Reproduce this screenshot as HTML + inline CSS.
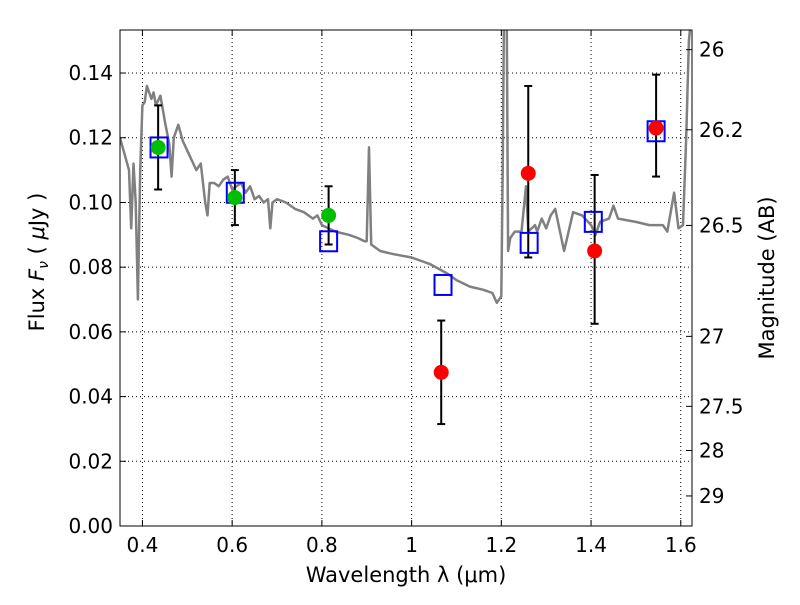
<!DOCTYPE html>
<html><head><meta charset="utf-8"><style>
body{margin:0;background:#fff;}
svg text{font-family:"DejaVu Sans","Liberation Sans",sans-serif;fill:#000;}
</style></head><body>
<svg id="chart" width="800" height="600" xmlns="http://www.w3.org/2000/svg">
<defs><clipPath id="pc"><rect x="120" y="30" width="572" height="496"/></clipPath></defs>
<g id="grid"></g>
<g id="spec" clip-path="url(#pc)"></g>
<g id="marks"></g>
<g id="axes"></g>
</svg>
<script>
const xTicks=[0.4,0.6,0.8,1.0,1.2,1.4,1.6];
const xTickLabels=["0.4","0.6","0.8","1","1.2","1.4","1.6"];
const yTicks=[0,0.02,0.04,0.06,0.08,0.10,0.12,0.14];
const yTickLabels=["0.00","0.02","0.04","0.06","0.08","0.10","0.12","0.14"];
const magTicks=[26,26.2,26.5,27,27.5,28,29];
const magTickLabels=["26","26.2","26.5","27","27.5","28","29"];
const specWave=[0.35,0.36,0.37,0.375,0.38,0.385,0.39,0.395,0.40,0.405,0.41,0.42,0.425,0.43,0.44,0.45,0.46,0.465,0.47,0.48,0.49,0.50,0.51,0.52,0.53,0.54,0.545,0.55,0.56,0.57,0.58,0.59,0.60,0.61,0.62,0.63,0.64,0.65,0.66,0.67,0.68,0.685,0.69,0.70,0.72,0.74,0.76,0.78,0.79,0.80,0.83,0.86,0.88,0.895,0.90,0.905,0.91,0.93,0.96,1.0,1.04,1.08,1.10,1.13,1.16,1.18,1.19,1.20,1.203,1.206,1.212,1.215,1.22,1.23,1.245,1.255,1.26,1.275,1.28,1.29,1.30,1.31,1.32,1.34,1.36,1.38,1.40,1.41,1.42,1.44,1.45,1.46,1.50,1.53,1.56,1.57,1.585,1.595,1.605,1.612,1.618,1.625];
const specFlux=[0.120,0.115,0.110,0.092,0.112,0.100,0.070,0.110,0.130,0.131,0.136,0.132,0.134,0.130,0.133,0.125,0.118,0.108,0.120,0.124,0.119,0.116,0.113,0.110,0.112,0.100,0.096,0.106,0.106,0.105,0.107,0.108,0.104,0.105,0.106,0.103,0.105,0.101,0.102,0.100,0.101,0.092,0.100,0.101,0.100,0.098,0.097,0.095,0.096,0.093,0.091,0.090,0.089,0.088,0.088,0.117,0.087,0.085,0.084,0.083,0.081,0.078,0.076,0.074,0.073,0.072,0.069,0.071,0.110,0.160,0.160,0.085,0.089,0.091,0.091,0.105,0.091,0.093,0.091,0.095,0.092,0.096,0.098,0.085,0.097,0.096,0.093,0.090,0.094,0.095,0.099,0.095,0.094,0.093,0.093,0.091,0.103,0.092,0.093,0.120,0.150,0.160];
const greenWave=[0.435,0.606,0.815];
const greenFlux=[0.117,0.1015,0.096];
const greenHi=[0.130,0.110,0.105];
const greenLo=[0.104,0.093,0.087];
const redWave=[1.066,1.26,1.408,1.545];
const redFlux=[0.0475,0.109,0.085,0.123];
const redHi=[0.0635,0.136,0.1085,0.1395];
const redLo=[0.0315,0.083,0.0625,0.108];
const modelWave=[0.437,0.607,0.815,1.07,1.262,1.405,1.545];
const modelFlux=[0.117,0.103,0.088,0.0745,0.0875,0.094,0.122];

const L=120,R=692,T=30,B=526;
const X=w=>L+(w-0.35)/(1.625-0.35)*(R-L);
const Y=f=>B-f/0.1533*(B-T);
const NS="http://www.w3.org/2000/svg";
function mk(p,tag,at,txt){const e=document.createElementNS(NS,tag);for(const k in at)e.setAttribute(k,at[k]);if(txt!=null)e.textContent=txt;p.appendChild(e);return e;}
const grid=document.getElementById('grid'),axes=document.getElementById('axes'),spec=document.getElementById('spec'),marks=document.getElementById('marks');

xTicks.forEach((t,i)=>{const x=X(t);
 const g=mk(grid,'line',{x1:x,x2:x,y1:T,y2:B,stroke:'#000','stroke-width':1,'stroke-dasharray':'1,3'});
 
 mk(axes,'line',{x1:x,x2:x,y1:B,y2:B-6,stroke:'#000'});mk(axes,'line',{x1:x,x2:x,y1:T,y2:T+6,stroke:'#000'});
 const tl=mk(axes,'text',{x:x,y:B+26,'font-size':20,'text-anchor':'middle'},xTickLabels[i]);
 });
yTicks.forEach((t,i)=>{const y=Y(t);
 const g=mk(grid,'line',{x1:L,x2:R,y1:y,y2:y,stroke:'#000','stroke-width':1,'stroke-dasharray':'1,3'});
 
 mk(axes,'line',{x1:L,x2:L+6,y1:y,y2:y,stroke:'#000'});
 const tl=mk(axes,'text',{x:L-7,y:y+7,'font-size':20,'text-anchor':'end'},yTickLabels[i]);
 });
magTicks.forEach((m,i)=>{const y=Y(Math.pow(10,(23.92-m)/2.5));
 mk(axes,'line',{x1:R-6,x2:R,y1:y,y2:y,stroke:'#000'});
 const tl=mk(axes,'text',{x:R+7,y:y+7,'font-size':20},magTickLabels[i]);
 });

let d='';specWave.forEach((w,i)=>{d+=(i?'L':'M')+X(w).toFixed(1)+','+Y(specFlux[i]).toFixed(1);});
const sp=mk(spec,'path',{d:d,fill:'none',stroke:'#808080','stroke-width':2.5,'stroke-linejoin':'round'});


function err(w,hi,lo){const x=X(w);const g=mk(marks,'g',{stroke:'#000','stroke-width':2});
 
 mk(g,'line',{x1:x,x2:x,y1:Y(hi),y2:Y(lo)});mk(g,'line',{x1:x-4,x2:x+4,y1:Y(hi),y2:Y(hi)});mk(g,'line',{x1:x-4,x2:x+4,y1:Y(lo),y2:Y(lo)});}
greenWave.forEach((w,i)=>err(w,greenHi[i],greenLo[i]));
redWave.forEach((w,i)=>err(w,redHi[i],redLo[i]));
modelWave.forEach((w,i)=>{const r=mk(marks,'rect',{x:X(w)-8.5,y:Y(modelFlux[i])-10,width:17,height:20,fill:'none',stroke:'#0000ff','stroke-width':2});
 });
greenWave.forEach((w,i)=>{const c=mk(marks,'circle',{cx:X(w),cy:Y(greenFlux[i]),r:7.5,fill:'#00bf00'});
 });
redWave.forEach((w,i)=>{const c=mk(marks,'circle',{cx:X(w),cy:Y(redFlux[i]),r:7.5,fill:'#ff0000'});
 });

const fr=mk(axes,'rect',{x:L,y:T,width:R-L,height:B-T,fill:'none',stroke:'#000','stroke-width':1});

const xl=mk(axes,'text',{x:406,y:582,'font-size':21,'text-anchor':'middle'},'Wavelength  λ (μm)');

const yl=mk(axes,'text',{x:0,y:0,'font-size':21,'text-anchor':'middle',transform:'translate(44,262) rotate(-90)'});

mk(yl,'tspan',{},'Flux  ');mk(yl,'tspan',{'font-style':'italic'},'F');mk(yl,'tspan',{'font-style':'italic','font-size':14,dy:4},'ν');mk(yl,'tspan',{dy:-4},'  ( ');mk(yl,'tspan',{'font-style':'italic'},'μ');mk(yl,'tspan',{},'Jy )');
const ml=mk(axes,'text',{x:0,y:0,'font-size':21,'text-anchor':'middle',transform:'translate(774,278) rotate(-90)'},'Magnitude (AB)');

</script>
</body></html>
